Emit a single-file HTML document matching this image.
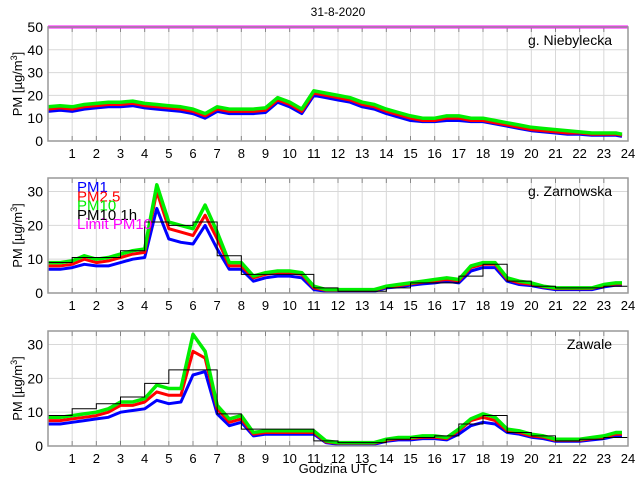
<!DOCTYPE html>
<html><head><meta charset="utf-8"><style>
body{margin:0;background:#fff;}
svg{display:block;font-family:"Liberation Sans",Arial,sans-serif;}
</style></head><body>
<svg id="c" width="640" height="480"></svg>
<script>
const hourTicks=[1,2,3,4,5,6,7,8,9,10,11,12,13,14,15,16,17,18,19,20,21,22,23,24];
const yTicks1=[0,10,20,30,40,50];
const yTicks23=[0,10,20,30];
const limitPM10=50;
const p1_pm10=[15,15.5,15,16,16.5,17,17,17.5,16.5,16,15.5,15,14,12,15,14,14,14,14.5,19,17,14,22,21,20,19,17,16,14,12.5,11,10,10,11,11,10,10,9,8,7,6,5.5,5,4.5,4,3.5,3.5,3.5,3];
const p1_pm25=[14,14.5,14,15,15.5,16,16,16.5,15.5,15,14.5,14,13,11,14,13,13,13,13.5,18,16,13,21,20,19,18,16,15,13,11.5,10,9,9,10,10,9,9,8,7,6,5,4.5,4,3.5,3.5,3,3,3,2.5];
const p1_pm1=[13,13.5,13,14,14.5,15,15,15.5,14.5,14,13.5,13,12,10,13,12,12,12,12.5,17,15,12,20,19,18,17,15,14,12,10.5,9,8.5,8.5,9,9,8.5,8.5,7.5,6.5,5.5,4.5,4,3.5,3,3,2.5,2.5,2.5,2];
const p2_pm10=[9,9,9.5,11,10,10.5,11.5,12.5,13,32,21,20,19,26,18,9,9,5,6,6.5,6.5,6,2,1,1,1,1,1,2,2.5,3,3.5,4,4.5,4,8,9,9,4.5,3.5,3,2,1.5,1.5,1.5,1.5,2.5,3,3];
const p2_pm25=[8,8,8.5,10,9,9.5,10.5,11.5,12,30,19,18,17,23,16,8,8,4.5,5.5,6,6,5.5,1.5,0.8,0.8,0.8,0.8,0.8,1.8,2.2,2.7,3.2,3.6,4,3.6,7.5,8.5,8.5,4,3,2.6,1.8,1.3,1.3,1.3,1.3,2.2,2.7,2.7];
const p2_pm1=[7,7,7.5,8.5,8,8,9,10,10.5,25,16,15,14.5,20,13,7,7,3.5,4.5,5,5,4.5,1,0.5,0.5,0.5,0.5,0.5,1.5,1.8,2.3,2.7,3,3.5,3,6.5,7.5,7.5,3.5,2.5,2.2,1.5,1,1,1,1,1.8,2.3,2.3];
const p2_1h=[9,10.5,10.5,12.5,21,20,21,11,5.5,5.5,5.5,1.5,0.5,0.5,1.5,3,3,5,8.5,3.5,2,1.5,1.5,2];
const p3_pm10=[8.5,8.5,9,9.5,10,11,13,13,14,18,17,17,33,28,12,8,9,4,4.5,4.5,4.5,4.5,4.5,1.5,1,1,1,1,2,2.5,2.5,3,3,2.5,5,8,9.5,8.5,5,4.5,3.5,3,2,2,2,2.5,3,4,4];
const p3_pm25=[7.5,7.5,8,8.5,9,10,12,12,13,16,15,15,28,26,11,7,8,3.5,4,4,4,4,4,1.2,0.8,0.8,0.8,0.8,1.7,2.2,2.2,2.6,2.6,2.2,4.5,7.5,8.5,7.5,4.5,4,3,2.6,1.7,1.7,1.7,2.2,2.6,3.5,3.5];
const p3_pm1=[6.5,6.5,7,7.5,8,8.5,10,10.5,11,13.5,12.5,13,21,22,9.5,6,7,3,3.5,3.5,3.5,3.5,3.5,1,0.5,0.5,0.5,0.5,1.4,1.8,1.8,2.2,2.2,1.8,3.5,6,7,6.5,4,3.5,2.6,2.2,1.4,1.4,1.4,1.8,2.2,3,3];
const p3_1h=[9,11,12.5,14.5,18.5,22.5,22.5,9.5,5,5,5,1.5,1,1,2,2.5,3,6.5,9,4,3,1.5,2,2.5];

const NS='http://www.w3.org/2000/svg';
const svg=document.getElementById('c');
function mk(t,a,p){const e=document.createElementNS(NS,t);for(const k in a)e.setAttribute(k,a[k]);(p||svg).appendChild(e);return e;}
const X0=48,X1=628;
function xs(h){return X0+(X1-X0)*h/24;}
function tOf(i){return Math.min(i*0.5,23.75);}

const title=mk('text',{x:338,y:16,'text-anchor':'middle','font-size':12});
title.textContent='31-8-2020';


const xt=mk('text',{x:338,y:473,'text-anchor':'middle','font-size':13});
xt.textContent='Godzina UTC';



function panel(name,label,top,bot,ymax,ticks,s10,s25,s1,h1,limit){
  const g=mk('g',{});
  
  
  const ys=v=>bot-(bot-top)*v/ymax;
  ticks.forEach(v=>{const l=mk('line',{x1:X0,x2:X1,y1:ys(v),y2:ys(v),stroke:'#d8d8d8','stroke-width':1},g);
    
    
    const t=mk('text',{x:X0-5,y:ys(v)+5,'text-anchor':'end','font-size':14},g);t.textContent=v;
    
    });
  hourTicks.forEach(h=>{const l=mk('line',{x1:xs(h),x2:xs(h),y1:top,y2:bot,stroke:'#d8d8d8','stroke-width':1},g);
    
    
    mk('line',{x1:xs(h),x2:xs(h),y1:bot,y2:bot-5,stroke:'#888'},g);
    mk('line',{x1:xs(h),x2:xs(h),y1:top,y2:top+5,stroke:'#888'},g);
    const t=mk('text',{x:xs(h),y:bot+17,'text-anchor':'middle','font-size':13},g);t.textContent=h;
    
    });
  function line(arr,col,w,nm){const d=arr.map((v,i)=>(i?'L':'M')+xs(tOf(i)).toFixed(1)+' '+ys(v).toFixed(1)).join('');
    const p=mk('path',{d:d,fill:'none',stroke:col,'stroke-width':w,'stroke-linejoin':'round'},g);
    
    }
  line(s1,'#0000ff',3,'pm1-series');
  line(s25,'#ff0000',3,'pm25-series');
  line(s10,'#00ee00',3.5,'pm10-series');
  if(h1){let d='';h1.forEach((v,i)=>{d+=(i?'L':'M')+xs(i)+' '+ys(v)+'L'+xs(i+1)+' '+ys(v);});
    const p=mk('path',{d:d,fill:'none',stroke:'#000','stroke-width':1},g);
    
    }
  if(limit!==null&&limit<=ymax){const l=mk('line',{x1:X0,x2:X1,y1:ys(limit),y2:ys(limit),stroke:'#ff00ff','stroke-width':3},g);
    
    }
  const f=mk('rect',{x:X0,y:top,width:X1-X0,height:bot-top,fill:'none',stroke:'#999','stroke-width':1.5},g);
  
  
  const lb=mk('text',{x:612,y:top+18,'text-anchor':'end','font-size':14},g);lb.textContent=label;
  
  
  const yl=mk('text',{x:0,y:0,'text-anchor':'middle','font-size':13,transform:`translate(22,${(top+bot)/2}) rotate(-90)`},g);
  yl.innerHTML='PM [µg/m<tspan dy="-5" font-size="9">3</tspan><tspan dy="5">]</tspan>';
  
  
  return ys;
}
panel('panel-niebylecka','g. Niebylecka',27,141,50,yTicks1,p1_pm10,p1_pm25,p1_pm1,null,limitPM10);
panel('panel-zarnowska','g. Zarnowska',178,293,34,yTicks23,p2_pm10,p2_pm25,p2_pm1,p2_1h,limitPM10);
panel('panel-zawale','Zawale',331,446,34,yTicks23,p3_pm10,p3_pm25,p3_pm1,p3_1h,limitPM10);

const legend=[['PM1','#0000ff'],['PM2.5','#ff0000'],['PM10','#00ee00'],['PM10 1h','#000'],['Limit PM10','#ff00ff']];
const lg=mk('g',{});


legend.forEach((e,i)=>{const t=mk('text',{x:77,y:192+i*9.3,'font-size':15,fill:e[1]},lg);t.textContent=e[0];
  
  });
</script>
</body></html>
